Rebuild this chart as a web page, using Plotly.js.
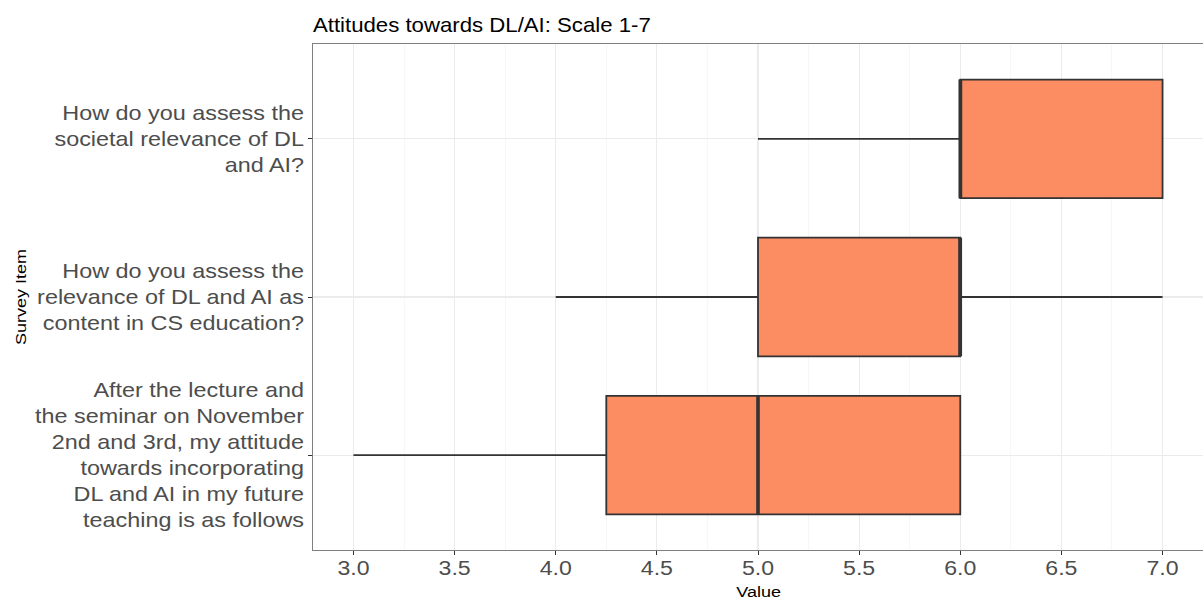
<!DOCTYPE html>
<html>
<head>
<meta charset="utf-8">
<script src="https://cdn.plot.ly/plotly-3.0.1.min.js"></script>
<style>html,body{margin:0;padding:0;background:#fff;}#chart{width:1203px;height:601px;}</style>
</head>
<body>
<div id="chart"></div>
<script>
// Survey items, top to bottom
const items = ["societal", "education", "lecture"];
const itemLabels = [
  "How do you assess the<br>societal relevance of DL<br>and AI?",
  "How do you assess the<br>relevance of DL and AI as<br>content in CS education?",
  "After the lecture and<br>the seminar on November<br>2nd and 3rd, my attitude<br>towards incorporating<br>DL and AI in my future<br>teaching is as follows"
];
const lowerWhisker = [5, 4, 3];
const q1Values = [6, 5, 4.25];
const medianValues = [6, 6, 5];
const q3Values = [7, 6, 6];
const upperWhisker = [7, 7, 6];
const xTickVals = [3.0, 3.5, 4.0, 4.5, 5.0, 5.5, 6.0, 6.5, 7.0];
const xTickText = ["3.0", "3.5", "4.0", "4.5", "5.0", "5.5", "6.0", "6.5", "7.0"];

const FONT = "'Liberation Sans', Arial, sans-serif";

const boxTrace = {
  type: "box",
  orientation: "h",
  y: items,
  q1: q1Values,
  median: medianValues,
  q3: q3Values,
  lowerfence: lowerWhisker,
  upperfence: upperWhisker,
  width: 0.75,
  whiskerwidth: 0,
  fillcolor: "#FC8D62",
  line: {color: "#333333", width: 1.8},
  boxpoints: false,
  hoverinfo: "skip",
  showlegend: false
};
const medianTrace = {
  type: "box",
  orientation: "h",
  y: items,
  q1: medianValues,
  median: medianValues,
  q3: medianValues,
  lowerfence: medianValues,
  upperfence: medianValues,
  width: 0.75,
  whiskerwidth: 0,
  fillcolor: "rgba(0,0,0,0)",
  line: {color: "#333333", width: 3.6},
  boxpoints: false,
  hoverinfo: "skip",
  showlegend: false
};

const layout = {
  width: 1203, height: 601,
  margin: {l: 313, r: 0, t: 44, b: 51},
  paper_bgcolor: "#ffffff",
  plot_bgcolor: "#ffffff",
  boxmode: "overlay",
  font: {family: FONT, color: "#4d4d4d"},
  title: {
    text: "Attitudes towards DL/AI: Scale 1-7",
    font: {family: FONT, size: 20, color: "#000000"},
    x: 313/1203, xref: "container", xanchor: "left",
    y: 1 - 25/601, yref: "container", yanchor: "middle"
  },
  xaxis: {
    range: [2.8, 7.2],
    tickmode: "array", tickvals: xTickVals, ticktext: xTickText,
    tickfont: {family: FONT, size: 21, color: "#4d4d4d"},
    ticks: "outside", ticklen: 4, tickcolor: "#333333", tickwidth: 1,
    ticklabelstandoff: -5,
    showgrid: true, gridcolor: "#ebebeb", gridwidth: 1.1,
    minor: {tickmode: "linear", tick0: 3, dtick: 0.25, showgrid: true, gridcolor: "#f2f2f2", gridwidth: 0.6, ticks: ""},
    showline: true, linecolor: "#7f7f7f", linewidth: 1, mirror: true,
    zeroline: false, fixedrange: true
  },
  yaxis: {
    type: "category",
    categoryorder: "array", categoryarray: items,
    range: [2.6, -0.6],
    tickmode: "array", tickvals: items, ticktext: itemLabels,
    tickfont: {family: FONT, size: 20, color: "#4d4d4d"},
    ticks: "outside", ticklen: 4, tickcolor: "#333333", tickwidth: 1,
    showgrid: true, gridcolor: "#ebebeb", gridwidth: 1.1,
    showline: true, linecolor: "#7f7f7f", linewidth: 1, mirror: true,
    zeroline: false, fixedrange: true
  },
  annotations: [
    {text: "Value", xref: "paper", yref: "paper", x: 0.5, y: -41/506, xanchor: "center", yanchor: "middle",
     showarrow: false, font: {family: FONT, size: 15, color: "#000000"}},
    {text: "Survey Item", xref: "paper", yref: "paper", x: -293/890, y: 0.5, xanchor: "center", yanchor: "middle",
     textangle: -90, showarrow: false, font: {family: FONT, size: 15, color: "#000000"}}
  ]
};

// Widen text horizontally about its own anchor to match the reference's glyph widths
function stretchText(root, selector, s) {
  root.querySelectorAll(selector).forEach(function (t) {
    const ax = parseFloat(t.getAttribute("x")) || 0;
    const ay = parseFloat(t.getAttribute("y")) || 0;
    const prev = t.getAttribute("transform") || "";
    t.setAttribute("transform", prev + " translate(" + ax + "," + ay + ") scale(" + s + ",1) translate(" + (-ax) + "," + (-ay) + ")");
  });
}

const gd = document.getElementById("chart");
Plotly.newPlot(gd, [boxTrace, medianTrace], layout, {displayModeBar: false, staticPlot: true}).then(function () {
  stretchText(gd, ".ytick text", 1.17);
  stretchText(gd, ".xtick text", 1.1);
  stretchText(gd, ".gtitle", 1.11);
  stretchText(gd, ".annotation-text", 1.2);
});
</script>
</body>
</html>
